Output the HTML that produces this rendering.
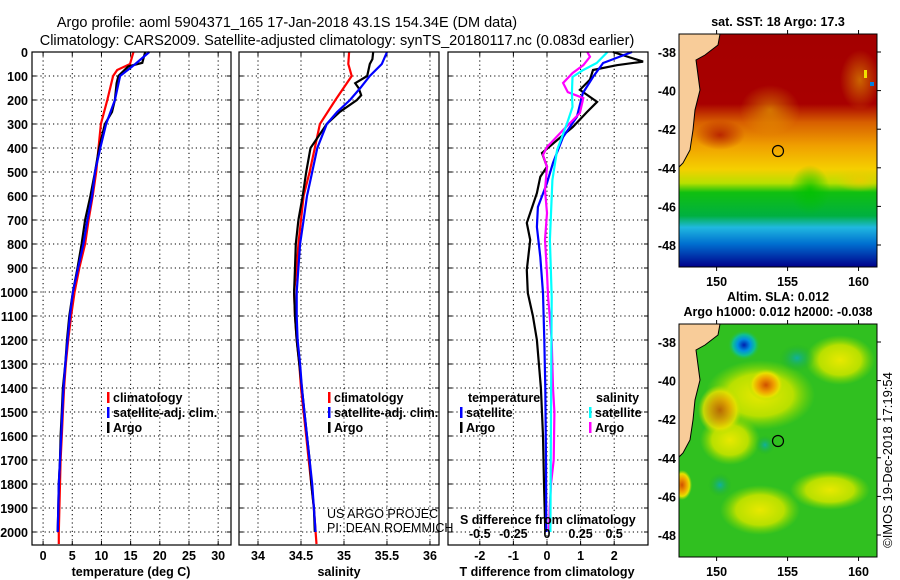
<!DOCTYPE html>
<html><head><meta charset="utf-8"><style>
html,body{margin:0;padding:0;background:#fff;}
svg{display:block;font-family:"Liberation Sans",sans-serif;}
.b{font-weight:bold;font-size:12.5px;}
</style></head><body>
<svg id="fig" width="900" height="580" viewBox="0 0 900 580">
<defs>
<linearGradient id="sst" x1="0" y1="0" x2="0" y2="1">
<stop offset="0" stop-color="#a40000"/><stop offset="0.3" stop-color="#a80000"/>
<stop offset="0.38" stop-color="#d86000"/><stop offset="0.48" stop-color="#f0a000"/>
<stop offset="0.58" stop-color="#f5cf00"/><stop offset="0.64" stop-color="#b8e000"/>
<stop offset="0.68" stop-color="#10c010"/><stop offset="0.78" stop-color="#00b040"/>
<stop offset="0.83" stop-color="#20b8e0"/><stop offset="0.9" stop-color="#0070d0"/>
<stop offset="1" stop-color="#00008a"/></linearGradient>
<radialGradient id="bl"><stop offset="0" stop-color="#0020b0"/><stop offset="0.4" stop-color="#0090e0"/><stop offset="0.7" stop-color="#10c090"/><stop offset="1" stop-color="#30c030" stop-opacity="0"/></radialGradient>
<radialGradient id="or"><stop offset="0" stop-color="#d05000"/><stop offset="0.45" stop-color="#f0a000"/><stop offset="0.75" stop-color="#e8e000"/><stop offset="1" stop-color="#b0e000" stop-opacity="0"/></radialGradient>
<radialGradient id="ye"><stop offset="0" stop-color="#e8e800"/><stop offset="0.6" stop-color="#b8e000"/><stop offset="1" stop-color="#80d800" stop-opacity="0"/></radialGradient>
<radialGradient id="cy"><stop offset="0" stop-color="#10b0a0"/><stop offset="1" stop-color="#20b020" stop-opacity="0"/></radialGradient>
<radialGradient id="sy"><stop offset="0" stop-color="#f0c800"/><stop offset="1" stop-color="#f0c800" stop-opacity="0"/></radialGradient>
<radialGradient id="sr"><stop offset="0" stop-color="#a80000"/><stop offset="1" stop-color="#a80000" stop-opacity="0"/></radialGradient>
<radialGradient id="sg"><stop offset="0" stop-color="#00c000"/><stop offset="1" stop-color="#00c000" stop-opacity="0"/></radialGradient>
<clipPath id="c1"><rect x="679" y="34" width="198" height="233"/></clipPath>
<clipPath id="c2"><rect x="679" y="324" width="198" height="233"/></clipPath>
</defs>
<text x="287" y="27" font-size="14.5" text-anchor="middle">Argo profile: aoml 5904371_165 17-Jan-2018 43.1S 154.34E (DM data)</text>
<text x="337" y="45" font-size="14.5" text-anchor="middle">Climatology: CARS2009. Satellite-adjusted climatology: synTS_20180117.nc (0.083d earlier)</text>
<g id="panels"></g>
<g id="maps">
<text x="778" y="26" class="b" text-anchor="middle">sat. SST: 18 Argo: 17.3</text>
<g clip-path="url(#c1)">
<rect x="679" y="34" width="198" height="233" fill="url(#sst)"/>
<ellipse cx="770" cy="110" rx="30" ry="25" fill="url(#sy)" opacity="0.5"/>
<ellipse cx="860" cy="80" rx="20" ry="30" fill="url(#sy)" opacity="0.5"/>
<ellipse cx="720" cy="135" rx="25" ry="15" fill="url(#sr)" opacity="0.7"/>
<ellipse cx="810" cy="190" rx="20" ry="25" fill="url(#sg)" opacity="0.8"/>
<ellipse cx="860" cy="180" rx="25" ry="12" fill="url(#sy)" opacity="0.8"/>
<path d="M679 34 L720 34 L718 45 L705 55 L696 60 L700 90 L695 110 L693 130 L690 150 L683 163 L679 167 Z" fill="#f8cc99" stroke="#000" stroke-width="1"/>
<rect x="864" y="70" width="3" height="8" fill="#f0e000"/><rect x="870" y="82" width="4" height="4" fill="#0080e0"/>
<circle cx="778" cy="151" r="5.5" fill="none" stroke="#000" stroke-width="1.2"/>
</g>
<rect x="679" y="34" width="198" height="233" fill="none" stroke="#000"/>
<text x="778" y="301" class="b" text-anchor="middle">Altim. SLA: 0.012</text>
<text x="778" y="316" class="b" text-anchor="middle">Argo h1000: 0.012 h2000: -0.038</text>
<g clip-path="url(#c2)">
<rect x="679" y="324" width="198" height="233" fill="#30c020"/>
<ellipse cx="760" cy="395" rx="55" ry="35" fill="url(#ye)"/>
<ellipse cx="730" cy="440" rx="30" ry="25" fill="url(#ye)"/>
<ellipse cx="840" cy="360" rx="35" ry="25" fill="url(#ye)"/>
<ellipse cx="830" cy="490" rx="40" ry="20" fill="url(#ye)"/>
<ellipse cx="760" cy="510" rx="40" ry="25" fill="url(#ye)"/>
<ellipse cx="720" cy="410" rx="22" ry="25" fill="url(#or)" opacity="0.8"/>
<ellipse cx="766" cy="385" rx="18" ry="16" fill="url(#or)"/>
<ellipse cx="682" cy="485" rx="10" ry="15" fill="url(#or)"/>
<ellipse cx="744" cy="345" rx="16" ry="15" fill="url(#bl)"/>
<ellipse cx="797" cy="358" rx="18" ry="14" fill="url(#cy)"/>
<ellipse cx="765" cy="445" rx="10" ry="10" fill="url(#cy)"/>
<ellipse cx="720" cy="485" rx="12" ry="12" fill="url(#cy)"/>
<path d="M679 324 L720 324 L718 335 L705 345 L696 350 L700 380 L695 400 L693 420 L690 440 L683 453 L679 457 Z" fill="#f8cc99" stroke="#000" stroke-width="1"/>
<circle cx="778" cy="441" r="5.5" fill="none" stroke="#000" stroke-width="1.2"/>
</g>
<rect x="679" y="324" width="198" height="233" fill="none" stroke="#000"/>
<text transform="translate(892,460) rotate(-90)" font-size="13" text-anchor="middle">©IMOS 19-Dec-2018 17:19:54</text>
</g>
</svg>
<script>
// ---- data ----
const tDepthClim = [0,50,75,100,200,300,400,500,600,700,800,900,1000,1100,1200,1300,1400,1500,1600,1700,1800,1900,2000,2050];
const tClim = [15.5,14.9,12.7,12.0,11.0,9.9,9.5,9.1,8.5,7.8,7.2,6.2,5.4,4.8,4.3,3.9,3.6,3.4,3.2,3.0,2.9,2.8,2.7,2.7];
const tDepthSat = [0,50,100,200,300,400,500,600,700,800,900,1000,1100,1200,1300,1400,1500,1600,1700,1800,1900,2000];
const tSat = [18.2,15.8,13.2,12.3,10.8,9.8,8.9,8.4,7.6,6.9,6.0,5.1,4.6,4.2,3.8,3.5,3.3,3.1,2.9,2.7,2.6,2.5];
const tDepthArgo = [0,45,60,100,130,200,250,300,400,500,600,700,800,900,1000,1100,1200,1300,1400,1500,1600,1700,1800,1900,2000];
const tArgo = [17.5,17.0,14.6,12.9,12.6,12.3,11.8,10.6,9.6,8.9,8.1,7.2,6.6,5.9,5.1,4.5,4.1,3.8,3.4,3.2,3.0,2.9,2.7,2.6,2.5];

const sDepthClim = [0,50,100,200,300,400,500,600,700,800,900,1000,1100,1200,1300,1400,1500,1600,1700,1800,1900,2000,2050];
const sClim = [35.06,35.05,35.09,34.9,34.72,34.66,34.6,34.53,34.5,34.47,34.45,34.42,34.43,34.45,34.48,34.5,34.53,34.56,34.59,34.62,34.65,34.67,34.68];
const sDepthSat = [0,50,100,150,200,250,300,400,500,600,700,800,900,1000,1100,1200,1300,1400,1500,1600,1700,1800,1900,2000];
const sSat = [35.5,35.44,35.3,35.19,35.07,34.92,34.8,34.69,34.63,34.57,34.53,34.49,34.47,34.45,34.45,34.46,34.49,34.51,34.54,34.57,34.6,34.63,34.65,34.67];
const sDepthArgo = [0,30,50,100,130,150,180,200,250,300,400,500,600,700,800,900,1000,1100,1200,1300,1400,1500,1600,1700,1800,1900,2000];
const sArgo = [35.34,35.33,35.3,35.27,35.13,35.17,35.2,35.15,34.95,34.8,34.61,34.56,34.52,34.47,34.44,34.43,34.42,34.43,34.45,34.48,34.51,34.54,34.57,34.6,34.62,34.65,34.66];

const dDepthTArgo = [0,40,55,75,115,158,208,250,312,367,421,478,520,588,712,783,908,1004,1100,1200,1300,1400,1600,1800,2000];
const dTArgo = [1.96,2.86,2.08,1.37,1.28,0.98,1.49,1.19,0.77,0.3,-0.15,0,-0.2,-0.3,-0.6,-0.5,-0.6,-0.57,-0.42,-0.3,-0.24,-0.18,-0.12,-0.09,-0.05];
const dDepthTSat = [0,46,104,171,270,354,462,546,646,729,854,1004,1200,1400,1700,2000];
const dTSat = [2.53,1.67,1.37,1.07,0.89,0.48,0.18,0,-0.27,-0.3,-0.2,-0.12,-0.08,-0.05,-0.03,-0.02];
const dDepthSArgo = [0,20,55,88,129,167,192,254,325,396,429,479,575,671,783,921,1021,1200,1400,1500,1700,1800,1900,2000];
const dSArgo = [0.3,0.32,0.27,0.19,0.12,0.155,0.27,0.245,0.12,0,-0.03,0,-0.015,0,-0.015,0,0.008,0.035,0.045,0.055,0.05,0.03,0.02,0.015];
const dDepthSSat = [0,46,75,104,171,229,296,408,533,783,1021,1500,2000];
const dSSat = [0.45,0.37,0.27,0.19,0.185,0.19,0.15,0.075,0.04,0.022,0.035,0.03,0.025];

const depthTicks = [0,100,200,300,400,500,600,700,800,900,1000,1100,1200,1300,1400,1500,1600,1700,1800,1900,2000];
const tTicks = [0,5,10,15,20,25,30];
const sTicks = [34,34.5,35,35.5,36];
const sTickLabels = ["34","34.5","35","35.5","36"];
const dTicks = [-2,-1,0,1,2];
const dsTicks = [-0.5,-0.25,0,0.25,0.5];
const dsTickLabels = ["-0.5","-0.25","0","0.25","0.5"];
const lonTicks = [150,155,160];
const latTicks = [-38,-40,-42,-44,-46,-48];

// ---- drawing ----
const NS = "http://www.w3.org/2000/svg";
const root = document.getElementById('panels');
const Y0 = 52, YK = 0.24, YB = 545;
function yScale(d){ return Y0 + d*YK; }
function mk(tag, attrs, parent){
  const e = document.createElementNS(NS, tag);
  for (const k in attrs) e.setAttribute(k, attrs[k]);
  (parent||root).appendChild(e);
  return e;
}
function panel(name, x0, x1, lo, hi){
  const sc = v => x0 + (v-lo)/(hi-lo)*(x1-x0);
  const g = mk('g', {});
  
  
  return {sc, g, x0, x1};
}
function grid(p, ticks, labels){
  ticks.forEach((t,i)=>{
    const x = p.sc(t);
    const l = mk('line', {x1:x, x2:x, y1:Y0, y2:YB, stroke:'#000', 'stroke-width':1, 'stroke-dasharray':'1.2,3'}, p.g);
    
    
    mk('line', {x1:x, x2:x, y1:Y0, y2:Y0+4, stroke:'#000'}, p.g);
    mk('line', {x1:x, x2:x, y1:YB-4, y2:YB, stroke:'#000'}, p.g);
    const tx = mk('text', {x:x, y:560, 'text-anchor':'middle', class:'b'}, p.g);
    tx.textContent = labels ? labels[i] : String(t);
    
    
  });
  depthTicks.forEach(d=>{
    const y = yScale(d);
    const l = mk('line', {x1:p.x0, x2:p.x1, y1:y, y2:y, stroke:'#000', 'stroke-width':1, 'stroke-dasharray':'1.2,3'}, p.g);
    
    
    mk('line', {x1:p.x0, x2:p.x0+4, y1:y, y2:y, stroke:'#000'}, p.g);
    mk('line', {x1:p.x1-4, x2:p.x1, y1:y, y2:y, stroke:'#000'}, p.g);
  });
}
function series(p, depths, vals, color, name, mult){
  mult = mult||1;
  const pts = depths.map((d,i)=> p.sc(vals[i]*mult).toFixed(1)+','+yScale(d).toFixed(1)).join(' ');
  const pl = mk('polyline', {points:pts, fill:'none', stroke:color, 'stroke-width':2.2, 'stroke-linejoin':'miter'}, p.g);
  
  
}
function frame(p){
  const r = mk('rect', {x:p.x0, y:Y0, width:p.x1-p.x0, height:YB-Y0, fill:'none', stroke:'#000', 'stroke-width':1.2}, p.g);
  
  
}
function text(p, x, y, s, cls, name, extra){
  const t = mk('text', Object.assign({x:x, y:y}, cls?{class:cls}:{}, extra||{}), p.g);
  t.textContent = s;
  
  
  return t;
}
function legend(p, x, y, color, label){
  mk('rect', {x:x, y:y-10, width:2.5, height:11, fill:color}, p.g);
  text(p, x+6, y, label, 'b', 'legend-entry');
}

// depth labels
const axg = panel('depth-axis', 0, 1, 0, 1);
depthTicks.forEach(d=>{
  const t = mk('text', {x:28, y:yScale(d)+5, 'text-anchor':'end', class:'b'}, axg.g);
  t.textContent = String(d);
  
  
});

// panel 1 temperature
const p1 = panel('temperature-panel', 32, 231, -1.9, 32.2);
grid(p1, tTicks);
series(p1, tDepthClim, tClim, '#ff0000', 'temperature-climatology-line');
series(p1, tDepthArgo, tArgo, '#000000', 'temperature-argo-line');
series(p1, tDepthSat, tSat, '#0000ff', 'temperature-satellite-line');
frame(p1);
legend(p1, 107, 402, '#ff0000', 'climatology');
legend(p1, 107, 417, '#0000ff', 'satellite-adj. clim.');
legend(p1, 107, 432, '#000000', 'Argo');
text(p1, 131, 576, 'temperature (deg C)', 'b', 'x-axis-title', {'text-anchor':'middle'});

// panel 2 salinity
const p2 = panel('salinity-panel', 239, 439, 33.779, 36.105);
grid(p2, sTicks, sTickLabels);
series(p2, sDepthClim, sClim, '#ff0000', 'salinity-climatology-line');
series(p2, sDepthArgo, sArgo, '#000000', 'salinity-argo-line');
series(p2, sDepthSat, sSat, '#0000ff', 'salinity-satellite-line');
frame(p2);
legend(p2, 328, 402, '#ff0000', 'climatology');
legend(p2, 328, 417, '#0000ff', 'satellite-adj. clim.');
legend(p2, 328, 432, '#000000', 'Argo');
text(p2, 327, 518, 'US ARGO PROJEC', null, 'credit-project', {'font-size':12.5});
text(p2, 327, 532, 'PI: DEAN ROEMMICH', null, 'credit-pi', {'font-size':12.5});
text(p2, 339, 576, 'salinity', 'b', 'x-axis-title', {'text-anchor':'middle'});

// panel 3 differences
const p3 = panel('difference-panel', 448, 648, -2.946, 3.006);
grid(p3, dTicks);
series(p3, dDepthTArgo, dTArgo, '#000000', 't-diff-argo-line');
series(p3, dDepthTSat, dTSat, '#0000ff', 't-diff-satellite-line');
series(p3, dDepthSArgo, dSArgo, '#ff00ff', 's-diff-argo-line', 4);
series(p3, dDepthSSat, dSSat, '#00ffff', 's-diff-satellite-line', 4);
frame(p3);
text(p3, 468, 402, 'temperature', 'b', 'legend-header');
legend(p3, 460, 417, '#0000ff', 'satellite');
legend(p3, 460, 432, '#000000', 'Argo');
text(p3, 596, 402, 'salinity', 'b', 'legend-header');
legend(p3, 589, 417, '#00ffff', 'satellite');
legend(p3, 589, 432, '#ff00ff', 'Argo');
text(p3, 460, 524, 'S difference from climatology', 'b', 'secondary-axis-title');
dsTicks.forEach((v,i)=>{
  text(p3, p3.sc(v*4), 538, dsTickLabels[i], 'b', 's-tick-label', {'text-anchor':'middle'});
});
text(p3, 547, 576, 'T difference from climatology', 'b', 'x-axis-title', {'text-anchor':'middle'});

// map axis labels
const mg = panel('map-axes', 0, 1, 0, 1);
function lonX(l){ return 679 + (l-147.35)/(161.3-147.35)*198; }
[[34,267,52,245],[324,557,342,535]].forEach(m=>{
  lonTicks.forEach(l=>{
    const x = lonX(l);
    mk('line',{x1:x,x2:x,y1:m[0]-4,y2:m[0],stroke:'#000'},mg.g);
    mk('line',{x1:x,x2:x,y1:m[1],y2:m[1]+4,stroke:'#000'},mg.g);
    const t = mk('text',{x:x,y:m[1]+19,'text-anchor':'middle',class:'b'},mg.g);
    t.textContent = String(l);
    
    
  });
  latTicks.forEach(la=>{
    const y = m[2] + (-38-la)/10*(m[3]-m[2]);
    mk('line',{x1:877,x2:881,y1:y,y2:y,stroke:'#000'},mg.g);
    const t = mk('text',{x:676,y:y+5,'text-anchor':'end',class:'b'},mg.g);
    t.textContent = String(la);
    
    
  });
});
</script>
</body></html>
